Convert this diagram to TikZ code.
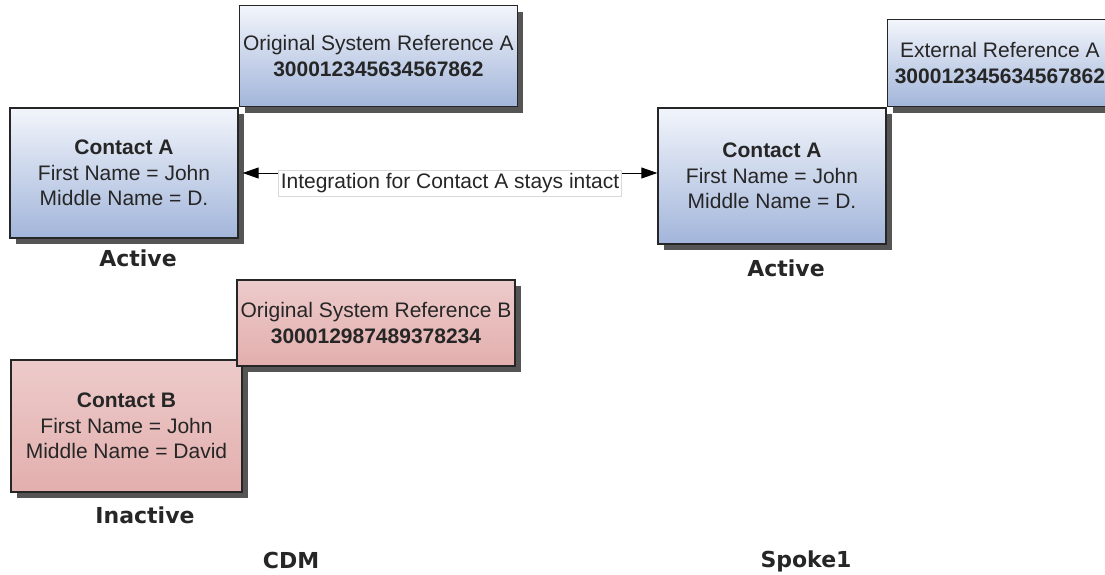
\documentclass[tikz,border=0pt]{standalone}
\usepackage{fontspec}
\setmainfont{Liberation Sans}
\newfontfamily\capfont{DejaVu Sans}
\usetikzlibrary{positioning,shadows,arrows.meta}

\definecolor{blueTop}{HTML}{F2F5FB}
\definecolor{blueBot}{HTML}{A2B5DA}
\definecolor{pinkTop}{HTML}{EDCBCB}
\definecolor{pinkBot}{HTML}{E2AFAD}
\definecolor{shadowGray}{HTML}{555555}
\definecolor{inkGray}{HTML}{262626}

\tikzset{
  recbox/.style={draw=black!85, line width=1.4pt, align=center, inner sep=0pt,
    text=inkGray, font=\fontsize{21}{25.5}\selectfont,
    drop shadow={shadow xshift=6pt, shadow yshift=-6pt, fill=shadowGray, opacity=1}},
  bluebox/.style={recbox, top color=blueTop, bottom color=blueBot},
  pinkbox/.style={recbox, top color=pinkTop, bottom color=pinkBot},
  status/.style={text=inkGray, font=\capfont\bfseries\fontsize{22}{26}\selectfont},
  linklabel/.style={fill=white, draw=black!15, line width=0.6pt, text=inkGray,
    inner xsep=2pt, inner ysep=3pt, font=\fontsize{21}{25}\selectfont}
}

\begin{document}
\begin{tikzpicture}[x=1pt,y=-1pt, >={Triangle[length=16pt,width=11pt]}]
  \useasboundingbox (0,0) rectangle (1105,575);
  % CDM side: active contact and its reference
  \node[bluebox, minimum width=228pt, minimum height=130pt] (cdmA) at (124,173)
    {\textbf{Contact A}\\First Name = John\\Middle Name =\ D.};
  \node[bluebox, minimum width=278pt, minimum height=101pt, anchor=south west] (osrA)
    at (cdmA.north east) {Original System Reference A\\\textbf{300012345634567862}};
  % CDM side: inactive contact
  \node[pinkbox, minimum width=231pt, minimum height=132pt] (cdmB) at (126.5,426)
    {\textbf{Contact B}\\First Name = John\\Middle Name = David};
  \node[pinkbox, minimum width=278pt, minimum height=86pt] (osrB) at (376,323)
    {Original System Reference B\\\textbf{300012987489378234}};
  % Spoke side
  \node[bluebox, minimum width=228pt, minimum height=136pt] (spkA) at (772,176)
    {\textbf{Contact A}\\First Name = John\\Middle Name =\ D.};
  \node[bluebox, minimum width=225pt, minimum height=87pt, anchor=south west] (extA)
    at (spkA.north east) {External Reference A\\\textbf{300012345634567862}};
  % link between the two contacts
  \draw[<->, line width=1pt] ([xshift=4pt]cdmA.east) -- (cdmA.east -| spkA.west)
    node[midway, linklabel, yshift=-10.5pt] (link) {Integration for Contact A stays intact};
  % captions
  \foreach \nm/\px/\py/\txt in {actA/138/258/Active, actS/786/268/Active,
      inactB/145/515/Inactive, cdm/291/560/CDM, spoke/806/561/Spoke1} {
    \node[status] (\nm) at (\px,\py) {\txt};
  }
\end{tikzpicture}
\end{document}
